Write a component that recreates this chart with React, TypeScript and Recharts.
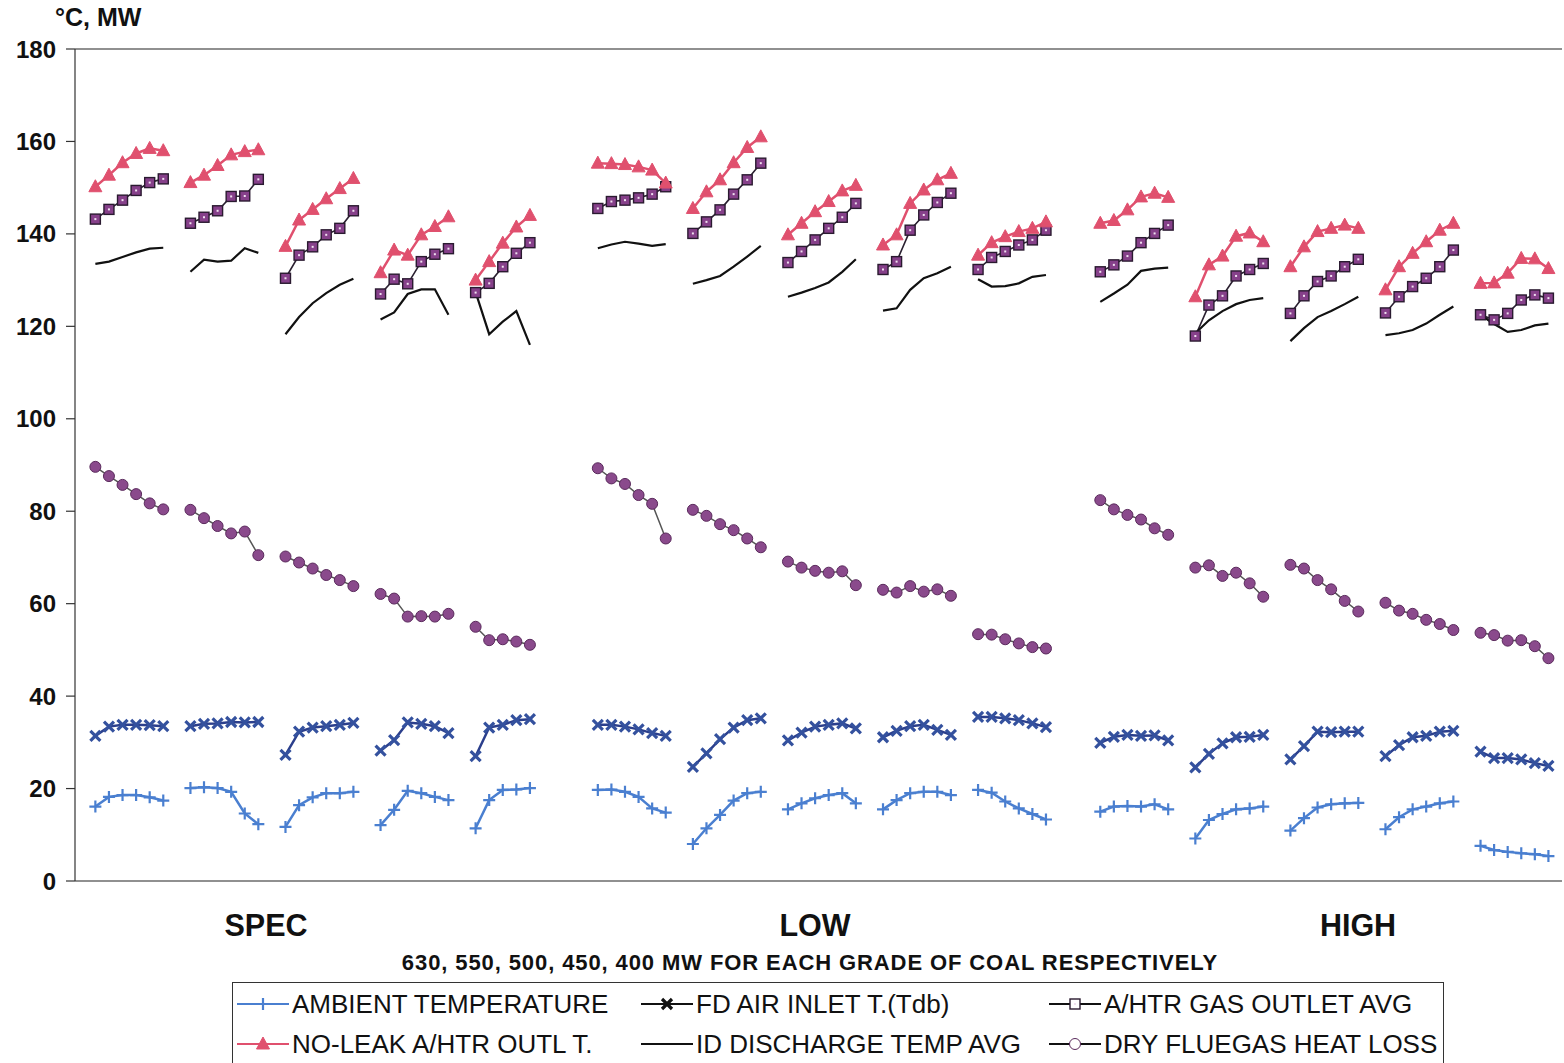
import { LineChart, Line, XAxis, YAxis, ReferenceLine } from 'recharts';

const FONT = '"Liberation Sans", Arial, sans-serif';

const grades = ['SPEC', 'LOW', 'HIGH'];
const yTicks = [0, 20, 40, 60, 80, 100, 120, 140, 160, 180];

// one row per load (630, 550, 500, 450, 400 MW) for SPEC, LOW, HIGH coal
const ambient = [
  [16.1, 18.2, 18.6, 18.6, 18.1, 17.4],
  [20.1, 20.3, 20.1, 19.3, 14.6, 12.3],
  [11.7, 16.4, 18.1, 19.0, 19.0, 19.3],
  [12.1, 15.4, 19.5, 19.0, 18.2, 17.5],
  [11.4, 17.5, 19.7, 19.8, 20.1],
  [19.7, 19.8, 19.3, 18.2, 15.7, 14.8],
  [8.0, 11.4, 14.3, 17.4, 19.0, 19.3],
  [15.5, 16.8, 17.9, 18.6, 19.0, 16.8],
  [15.5, 17.5, 19.0, 19.3, 19.3, 18.6],
  [19.7, 19.1, 17.2, 15.7, 14.5, 13.3],
  [15.0, 16.1, 16.2, 16.1, 16.6, 15.5],
  [9.2, 13.2, 14.5, 15.5, 15.7, 16.1],
  [10.9, 13.6, 15.9, 16.6, 16.8, 16.9],
  [11.2, 13.8, 15.5, 16.1, 16.8, 17.2],
  [7.6, 6.7, 6.3, 6.0, 5.8, 5.4],
];

const fdAir = [
  [31.4, 33.4, 33.8, 33.8, 33.7, 33.5],
  [33.5, 34.0, 34.1, 34.4, 34.3, 34.4],
  [27.3, 32.3, 33.2, 33.5, 33.8, 34.2],
  [28.2, 30.5, 34.3, 34.0, 33.5, 32.0],
  [27.0, 33.2, 33.8, 34.8, 35.0],
  [33.8, 33.8, 33.4, 32.8, 32.0, 31.4],
  [24.7, 27.6, 30.7, 33.2, 34.8, 35.2],
  [30.4, 32.1, 33.4, 33.8, 34.1, 33.0],
  [31.1, 32.5, 33.5, 33.8, 32.7, 31.6],
  [35.5, 35.5, 35.2, 34.8, 34.1, 33.3],
  [29.9, 31.2, 31.6, 31.4, 31.5, 30.4],
  [24.6, 27.5, 29.8, 31.1, 31.2, 31.6],
  [26.3, 29.2, 32.3, 32.2, 32.3, 32.3],
  [27.0, 29.4, 31.1, 31.4, 32.3, 32.5],
  [28.0, 26.6, 26.6, 26.3, 25.5, 24.9],
];

const gasOutlet = [
  [143.2, 145.3, 147.3, 149.4, 151.1, 151.9],
  [142.3, 143.6, 145.0, 148.1, 148.2, 151.8],
  [130.4, 135.4, 137.2, 139.8, 141.2, 145.0],
  [127.0, 130.2, 129.2, 134.0, 135.6, 136.8],
  [127.3, 129.3, 132.9, 135.8, 138.1],
  [145.5, 147.0, 147.3, 147.8, 148.6, 150.2],
  [140.1, 142.6, 145.2, 148.6, 151.7, 155.3],
  [133.8, 136.2, 138.7, 141.2, 143.6, 146.6],
  [132.3, 134.0, 140.8, 144.1, 146.8, 148.8],
  [132.3, 134.9, 136.2, 137.6, 138.7, 140.8],
  [131.8, 133.3, 135.2, 138.1, 140.1, 141.9],
  [117.9, 124.6, 126.6, 130.9, 132.3, 133.6],
  [122.8, 126.6, 129.7, 130.9, 132.9, 134.5],
  [122.9, 126.4, 128.6, 130.4, 132.9, 136.5],
  [122.5, 121.4, 122.8, 125.7, 126.8, 126.1],
];

const noLeak = [
  [150.2, 152.7, 155.4, 157.4, 158.5, 158.0],
  [151.1, 152.7, 154.8, 157.1, 157.8, 158.2],
  [137.3, 143.0, 145.3, 147.6, 149.8, 152.0],
  [131.6, 136.5, 135.4, 139.8, 141.6, 143.7],
  [130.0, 134.0, 138.0, 141.5, 144.0],
  [155.3, 155.2, 155.0, 154.5, 153.8, 151.0],
  [145.5, 149.1, 151.7, 155.4, 158.7, 161.0],
  [139.8, 142.3, 144.8, 147.0, 149.3, 150.5],
  [137.6, 139.8, 146.6, 149.5, 151.7, 153.1],
  [135.4, 138.1, 139.4, 140.5, 141.2, 142.6],
  [142.3, 142.9, 145.2, 148.0, 148.8, 147.9],
  [126.4, 133.3, 135.2, 139.5, 140.2, 138.3],
  [132.9, 137.2, 140.5, 141.2, 141.9, 141.2],
  [127.9, 132.9, 135.8, 138.3, 140.8, 142.3],
  [129.3, 129.4, 131.5, 134.7, 134.6, 132.5],
];

const idDischarge = [
  [133.5, 134.0, 135.0, 136.0, 136.8, 137.0],
  [131.8, 134.4, 134.0, 134.2, 136.9, 135.9],
  [118.3, 122.0, 125.0, 127.2, 129.0, 130.3],
  [121.5, 123.0, 127.0, 128.0, 128.0, 122.5],
  [127.4, 118.3, 121.0, 123.3, 116.0],
  [136.9, 137.7, 138.3, 137.9, 137.4, 137.8],
  [129.2, 130.0, 130.9, 132.9, 135.1, 137.4],
  [126.4, 127.3, 128.3, 129.5, 131.8, 134.5],
  [123.4, 123.9, 127.9, 130.4, 131.5, 132.9],
  [130.2, 128.6, 128.7, 129.3, 130.7, 131.1],
  [125.3, 127.1, 129.0, 132.0, 132.5, 132.7],
  [118.5, 121.3, 123.3, 124.8, 125.7, 126.1],
  [116.8, 119.6, 122.0, 123.3, 124.8, 126.4],
  [118.1, 118.5, 119.2, 120.6, 122.5, 124.3],
  [122.5, 120.5, 118.8, 119.2, 120.2, 120.6],
];

const dryLoss = [
  [89.6, 87.6, 85.7, 83.7, 81.7, 80.4],
  [80.3, 78.5, 76.8, 75.2, 75.6, 70.5],
  [70.2, 68.9, 67.6, 66.2, 65.1, 63.8],
  [62.1, 61.1, 57.2, 57.3, 57.2, 57.8],
  [55.0, 52.1, 52.3, 51.8, 51.1],
  [89.3, 87.1, 85.9, 83.5, 81.6, 74.1],
  [80.3, 79.0, 77.2, 75.9, 74.1, 72.2],
  [69.1, 67.8, 67.1, 66.7, 67.0, 64.0],
  [63.0, 62.4, 63.8, 62.6, 63.1, 61.7],
  [53.4, 53.3, 52.3, 51.4, 50.6, 50.3],
  [82.4, 80.4, 79.2, 78.2, 76.3, 74.9],
  [67.8, 68.3, 66.0, 66.7, 64.4, 61.5],
  [68.4, 67.6, 65.1, 63.1, 60.6, 58.3],
  [60.2, 58.5, 57.8, 56.5, 55.6, 54.3],
  [53.7, 53.2, 52.0, 52.1, 50.8, 48.2],
];

const series = [
  { key: 'ambient', values: ambient, name: 'AMBIENT TEMPERATURE', line: '#4a7fd0', width: 2.5, marker: 'plus', mark: '#4a7fd0' },
  { key: 'fd', values: fdAir, name: 'FD AIR INLET T.(Tdb)', line: '#2b3f8c', width: 2.5, marker: 'cross', mark: '#34519e' },
  { key: 'gas', values: gasOutlet, name: 'A/HTR GAS OUTLET AVG', line: '#2a2030', width: 1.6, marker: 'square', mark: '#86408a' },
  { key: 'noleak', values: noLeak, name: 'NO-LEAK A/HTR OUTL T.', line: '#e0506e', width: 2.5, marker: 'triangle', mark: '#e0506e' },
  { key: 'id', values: idDischarge, name: 'ID DISCHARGE TEMP AVG', line: '#111', width: 2.2, marker: 'none', mark: '#111' },
  { key: 'dry', values: dryLoss, name: 'DRY FLUEGAS HEAT LOSS', line: '#555', width: 1.5, marker: 'circle', mark: '#8a4a8c' },
];

// x position: 6 slots per group, one empty slot between groups, two more between coal grades
const rows: any[] = [];
for (let g = 0; g < 15; g++) {
  const base = g * 7 + Math.floor(g / 5) * 2;
  for (let i = 0; i < 6; i++) {
    const row: any = { x: base + i };
    series.forEach((s) => {
      const v = s.values[g][i];
      row[s.key] = v === undefined ? null : v;
    });
    rows.push(row);
  }
  const gap: any = { x: base + 6 };
  series.forEach((s) => (gap[s.key] = null));
  rows.push(gap);
}

function markerShape(type: string, cx: number, cy: number, color: string, k?: any) {
  switch (type) {
    case 'plus':
      return <path key={k} d={`M${cx - 6},${cy}h12M${cx},${cy - 6}v12`} stroke={color} strokeWidth={2.2} fill="none" />;
    case 'cross':
      return <path key={k} d={`M${cx - 5},${cy - 5}L${cx + 5},${cy + 5}M${cx - 5},${cy + 5}L${cx + 5},${cy - 5}`} stroke={color} strokeWidth={3.2} fill="none" />;
    case 'square':
      return (
        <g key={k}>
          <rect x={cx - 5} y={cy - 5} width={10} height={10} fill={color} stroke="#2a1a30" strokeWidth={1.4} />
          <rect x={cx - 1} y={cy - 1} width={2} height={2} fill="#f0e0f0" />
        </g>
      );
    case 'triangle':
      return <path key={k} d={`M${cx},${cy - 7}L${cx + 6.5},${cy + 5}L${cx - 6.5},${cy + 5}Z`} fill={color} stroke={color} strokeWidth={1} />;
    case 'circle':
      return <circle key={k} cx={cx} cy={cy} r={5.5} fill={color} stroke="#5a2a5c" strokeWidth={1} />;
    default:
      return <g key={k} />;
  }
}

function makeDot(type: string, color: string) {
  return (p: any) => {
    const k = `${p.dataKey}-${p.index}`;
    if (p.cy == null || p.cx == null || Number.isNaN(p.cy) || p.value == null) return <g key={k} />;
    return markerShape(type, p.cx, p.cy, color, k);
  };
}

function LegendIcon({ s }: { s: (typeof series)[number] }) {
  return (
    <svg width={52} height={20} style={{ display: 'block' }}>
      <line x1={0} y1={10} x2={52} y2={10} stroke={s.marker === 'plus' ? s.line : s.key === 'noleak' ? s.line : '#111'} strokeWidth={2} />
      {markerShape(s.marker, 26, 10, s.marker === 'cross' ? '#111' : s.marker === 'square' || s.marker === 'circle' ? '#fff' : s.mark)}
    </svg>
  );
}

const legendPos = [
  { left: 4, top: 21 },
  { left: 408, top: 21 },
  { left: 816, top: 21 },
  { left: 4, top: 61 },
  { left: 408, top: 61 },
  { left: 816, top: 61 },
];

export default function App() {
  return (
    <div
      style={{
        position: 'absolute',
        left: 0,
        top: 0,
        width: 1564,
        height: 1063,
        overflow: 'hidden',
        background: '#fff',
        fontFamily: FONT,
      }}
    >
      <div style={{ position: 'absolute', left: 55, top: 3, fontSize: 25, fontWeight: 'bold', color: '#111' }}>°C, MW</div>

      <div style={{ position: 'absolute', left: 0, top: 0 }}>
        <LineChart width={1564} height={900} data={rows} margin={{ top: 49, right: 2, bottom: 19, left: 10 }}>
          <XAxis dataKey="x" type="number" domain={[-1.5, 108]} hide />
          <YAxis
            type="number"
            domain={[0, 180]}
            ticks={yTicks}
            width={65}
            interval={0}
            tickSize={9}
            tickMargin={10}
            axisLine={{ stroke: '#333', strokeWidth: 1.2 }}
            tickLine={{ stroke: '#333', strokeWidth: 1.2 }}
            tick={{ fill: '#111', fontSize: 24, fontWeight: 'bold', fontFamily: FONT }}
          />
          <ReferenceLine y={180} stroke="#222" strokeWidth={1.2} />
          <ReferenceLine y={0} stroke="#222" strokeWidth={1.2} />
          {series.map((s) => (
            <Line
              key={s.key}
              dataKey={s.key}
              type="linear"
              stroke={s.line}
              strokeWidth={s.width}
              dot={s.marker === 'none' ? false : makeDot(s.marker, s.mark)}
              activeDot={false}
              isAnimationActive={false}
              connectNulls={false}
            />
          ))}
        </LineChart>
      </div>

      {grades.map((g, i) => (
        <div
          key={g}
          style={{
            position: 'absolute',
            left: [266, 815, 1358][i],
            top: 908,
            transform: 'translateX(-50%)',
            fontSize: 30.5,
            fontWeight: 'bold',
            color: '#111',
          }}
        >
          {g}
        </div>
      ))}

      <div
        style={{
          position: 'absolute',
          left: 810,
          top: 950,
          transform: 'translateX(-50%)',
          fontSize: 22,
          letterSpacing: 0.9,
          fontWeight: 'bold',
          whiteSpace: 'nowrap',
          color: '#111',
        }}
      >
        630, 550, 500, 450, 400 MW FOR EACH GRADE OF COAL RESPECTIVELY
      </div>

      <div
        style={{
          position: 'absolute',
          left: 232,
          top: 982,
          width: 1212,
          height: 100,
          border: '1.5px solid #333',
          boxSizing: 'border-box',
        }}
      >
        {series.map((s, i) => (
          <div
            key={s.key}
            style={{
              position: 'absolute',
              left: legendPos[i].left,
              top: legendPos[i].top - 14,
              height: 28,
              display: 'flex',
              alignItems: 'center',
              gap: 3,
              whiteSpace: 'nowrap',
            }}
          >
            <LegendIcon s={s} />
            <span style={{ fontSize: 26, color: '#111' }}>{s.name}</span>
          </div>
        ))}
      </div>
    </div>
  );
}
